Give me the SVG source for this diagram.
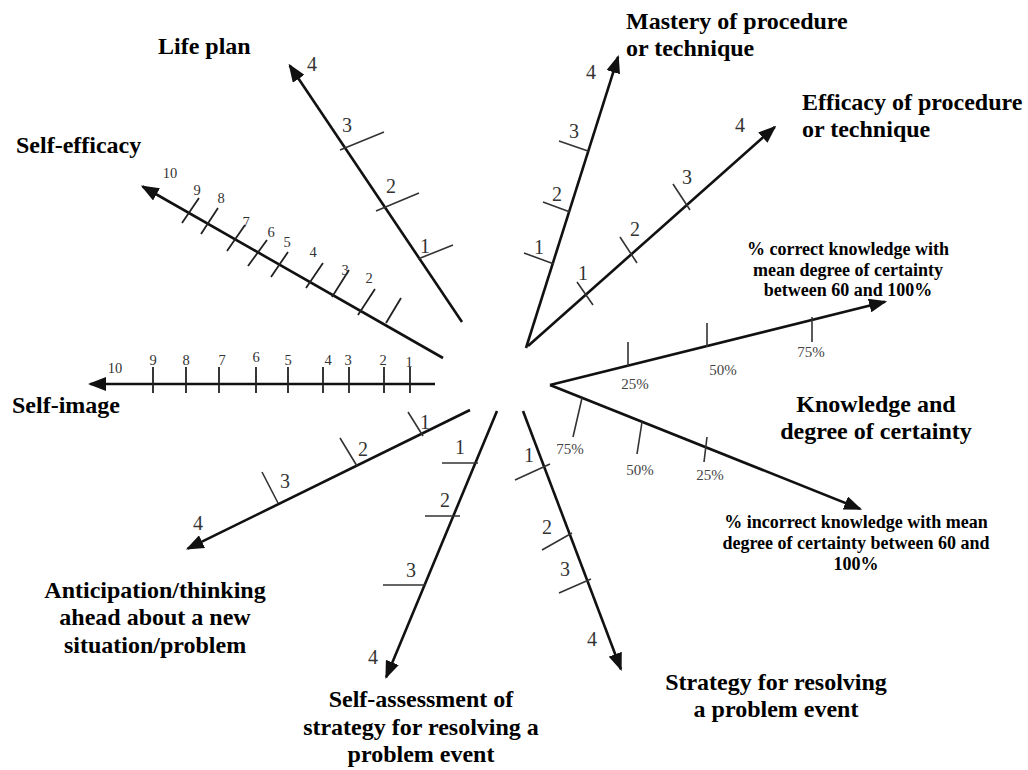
<svg xmlns="http://www.w3.org/2000/svg" width="1028" height="770" viewBox="0 0 1028 770">
<defs>
<marker id="ah" markerUnits="userSpaceOnUse" markerWidth="18" markerHeight="14" viewBox="0 0 18 14" refX="16" refY="7" orient="auto">
<path d="M0,0 L18,7 L0,14 z" fill="#111"/>
</marker>
<style>
.ax{stroke:#111;stroke-width:2.6;fill:none;marker-end:url(#ah)}
.tk{stroke:#333;stroke-width:1.6;fill:none}
.tk2{stroke:#222;stroke-width:1.8;fill:none}
.n{font-family:"Liberation Serif","Times New Roman",serif;font-size:20px;fill:#333;text-anchor:middle}
.ns{font-size:14.5px}
.p{font-size:15px;fill:#444}
.t{font-family:"Liberation Serif","Times New Roman",serif;font-weight:bold;font-size:24px;fill:#000}
.c{text-anchor:middle}
.s{font-size:18px;text-anchor:middle}
</style>
</defs>
<rect width="1028" height="770" fill="#fff"/>

<g id="life-plan">
<path class="ax" d="M462,322 L289.7,65.5"/>
<path class="tk" d="M418,259 L453,245 M376,211 L419,193 M340,150 L384,132"/>
<text class="n" x="425" y="253">1</text>
<text class="n" x="391" y="193">2</text>
<text class="n" x="347" y="132">3</text>
<text class="n" x="312" y="71">4</text>
<text class="t" x="158" y="54">Life plan</text>
</g>

<g id="self-efficacy">
<path class="ax" d="M443,358 L142.6,186.5"/>
<path class="tk2" d="M182,223 L199,198 M201,234 L218,208 M227,251 L245,225 M248,266 L267,240 M271,277 L288,252 M306,288 L323,263 M332,297 L349,270 M358,315 L375,289 M386,323 L401,298"/>
<text class="n ns" x="170" y="178">10</text>
<text class="n ns" x="197" y="195">9</text>
<text class="n ns" x="221" y="203">8</text>
<text class="n ns" x="246" y="227">7</text>
<text class="n ns" x="271" y="237">6</text>
<text class="n ns" x="287" y="247">5</text>
<text class="n ns" x="313" y="257">4</text>
<text class="n ns" x="345" y="275">3</text>
<text class="n ns" x="369" y="283">2</text>
<text class="t" x="16" y="153">Self-efficacy</text>
</g>

<g id="self-image">
<path class="ax" d="M435,384 L90,384"/>
<path class="tk2" d="M153,367 V393 M186,367 V393 M219,367 V393 M256,367 V393 M288,367 V393 M323,367 V393 M349,367 V393 M384,367 V393 M410,367 V393"/>
<text class="n ns" x="115" y="373">10</text>
<text class="n ns" x="153" y="365">9</text>
<text class="n ns" x="186" y="365">8</text>
<text class="n ns" x="222" y="365">7</text>
<text class="n ns" x="256" y="362">6</text>
<text class="n ns" x="288" y="365">5</text>
<text class="n ns" x="328" y="365">4</text>
<text class="n ns" x="348" y="365">3</text>
<text class="n ns" x="383" y="365">2</text>
<text class="n ns" x="409" y="367">1</text>
<text class="t" x="12" y="413">Self-image</text>
</g>

<g id="mastery">
<path class="ax" d="M526,348 L618.1,56.9"/>
<path class="tk" d="M524,253 L554,264 M543,202 L570,212 M559,141 L588,151"/>
<text class="n" x="539" y="254">1</text>
<text class="n" x="557" y="201">2</text>
<text class="n" x="574" y="138">3</text>
<text class="n" x="591" y="79">4</text>
<text class="t" x="626" y="29">Mastery of procedure</text>
<text class="t" x="626" y="56">or technique</text>
</g>

<g id="efficacy">
<path class="ax" d="M528,346 L774.8,127"/>
<path class="tk" d="M577,282 L593,305 M620,237 L637,263 M673,184 L690,210"/>
<text class="n" x="583" y="280">1</text>
<text class="n" x="635" y="236">2</text>
<text class="n" x="687" y="184">3</text>
<text class="n" x="740" y="132">4</text>
<text class="t" x="802" y="110">Efficacy of procedure</text>
<text class="t" x="802" y="137">or technique</text>
</g>

<g id="knowledge-correct">
<path class="ax" d="M550,385 L885.1,301.7"/>
<path class="tk" d="M628,342 V366 M707,323 V347 M812,317 V342"/>
<text class="n p" x="635" y="389">25%</text>
<text class="n p" x="723" y="375">50%</text>
<text class="n p" x="811" y="357">75%</text>
<text class="t s" x="848" y="255">% correct knowledge with</text>
<text class="t s" x="848" y="275.5">mean degree of certainty</text>
<text class="t s" x="848" y="296">between 60 and 100%</text>
</g>

<g id="knowledge">
<text class="t c" x="876" y="412">Knowledge and</text>
<text class="t c" x="876" y="439">degree of certainty</text>
</g>

<g id="knowledge-incorrect">
<path class="ax" d="M550,385 L860.2,508.9"/>
<path class="tk" d="M582,398 L573,437 M642,422 L637,454 M707,437 L704,462"/>
<text class="n p" x="570" y="454">75%</text>
<text class="n p" x="640" y="475">50%</text>
<text class="n p" x="710" y="480">25%</text>
<text class="t s" x="856" y="528">% incorrect knowledge with mean</text>
<text class="t s" x="856" y="549">degree of certainty between 60 and</text>
<text class="t s" x="856" y="570">100%</text>
</g>

<g id="strategy">
<path class="ax" d="M523,411 L620.9,669.2"/>
<path class="tk" d="M515,480 L550,464 M542,550 L572,533 M559,593 L591,579"/>
<text class="n" x="529" y="462">1</text>
<text class="n" x="547" y="534">2</text>
<text class="n" x="565" y="576">3</text>
<text class="n" x="592" y="646">4</text>
<text class="t c" x="776" y="690">Strategy for resolving</text>
<text class="t c" x="776" y="717">a problem event</text>
</g>

<g id="self-assessment">
<path class="ax" d="M497,411 L386.2,677.2"/>
<path class="tk" d="M442,463 L478,463 M425,516 L460,516 M383,585 L426,585"/>
<text class="n" x="460" y="454">1</text>
<text class="n" x="445" y="507">2</text>
<text class="n" x="411" y="577">3</text>
<text class="n" x="373" y="664">4</text>
<text class="t c" x="421" y="707">Self-assessment of</text>
<text class="t c" x="421" y="735">strategy for resolving a</text>
<text class="t c" x="421" y="762">problem event</text>
</g>

<g id="anticipation">
<path class="ax" d="M470,410 L187.7,548.7"/>
<path class="tk" d="M408,412 L423,436 M340,438 L357,466 M262,472 L278,503"/>
<text class="n" x="425" y="429">1</text>
<text class="n" x="363" y="456">2</text>
<text class="n" x="285" y="488">3</text>
<text class="n" x="198" y="530">4</text>
<text class="t c" x="155" y="598">Anticipation/thinking</text>
<text class="t c" x="155" y="625">ahead about a new</text>
<text class="t c" x="155" y="653">situation/problem</text>
</g>
</svg>
